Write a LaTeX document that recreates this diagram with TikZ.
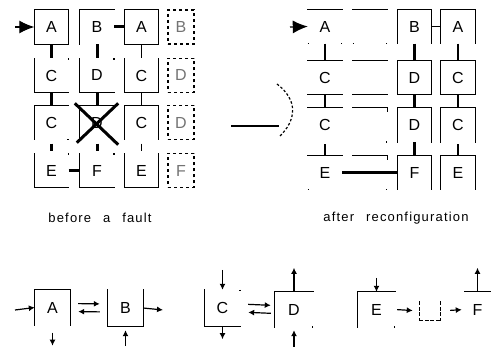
\documentclass[tikz,border=0pt]{standalone}
\usepackage{fontspec}
\setmainfont{Liberation Sans}
\newfontfamily\capfont[LetterSpace=9,WordSpace=2.5]{Liberation Sans}
\usetikzlibrary{arrows.meta,positioning}

% sides of a cell: t, l, r, b (B runs the other way)
\def\sidefromt{north west}\def\sidetot{north east}
\def\sidefroml{north west}\def\sidetol{south west}
\def\sidefromr{north east}\def\sidetor{south east}
\def\sidefromb{south west}\def\sidetob{south east}
\def\sidefromB{south east}\def\sidetoB{south west}
\newcommand{\cellsides}[3][cellline]{%
  \foreach \s in {#3}{%
    \edef\sidefrom{\csname sidefrom\s\endcsname}%
    \edef\sideto{\csname sideto\s\endcsname}%
    \draw[#1] (#2.\sidefrom) -- (#2.\sideto);}}

\begin{document}
\begin{tikzpicture}[x=1pt, y=-1pt, every node/.style={font=\fontsize{16}{16}\selectfont}]
\tikzstyle{cell}=[minimum width=34pt, minimum height=34pt, inner sep=0pt]
\tikzstyle{cellline}=[line width=1.2pt, line cap=rect]
\tikzstyle{ghost}=[line width=1.5pt, dash pattern=on 1.5pt off 200pt]
\tikzstyle{spare}=[cell, minimum width=26pt, draw, line width=1.2pt, dash pattern=on 3pt off 3pt, text=black!55]
\tikzstyle{thinlink}=[line width=1.2pt]
\tikzstyle{thicklink}=[line width=3pt]
\tikzstyle{feed}=[line width=1.2pt, -{Latex[length=15pt,width=13pt]}]
\tikzstyle{legarrow}=[line width=1.2pt, -{Latex[length=6pt,width=6pt]}]
\useasboundingbox (0,0) rectangle (491,347);

% before a fault
\node[cell] (l11) at (51.5,27) {A};
\node[cell] (l12) at (97,27) {B};
\node[cell] (l13) at (141.5,27) {A};
\node[spare] (l14) at (181,27) {B};
\node[cell] (l21) at (51.5,75.5) {C};
\node[cell] (l22) at (97,75.5) {D};
\node[cell] (l23) at (141.5,75.5) {C};
\node[spare] (l24) at (181,75.5) {D};
\node[cell] (l31) at (51.5,122.5) {C};
\node[cell] (l32) at (97,122.5) {D};
\node[cell] (l33) at (141.5,122.5) {C};
\node[spare] (l34) at (181,122.5) {D};
\node[cell] (l41) at (51.5,170.5) {E};
\node[cell] (l42) at (97,170.5) {F};
\node[cell] (l43) at (141.5,170.5) {E};
\node[spare] (l44) at (181,170.5) {F};
\cellsides{l11}{t,l,r,b}
\cellsides{l12}{t,l}
\cellsides{l13}{t,l,r,b}
\cellsides{l21}{l,b}
\cellsides{l22}{l,b}
\cellsides{l23}{l,r,b}
\cellsides{l31}{t,l}
\cellsides{l32}{t,l}
\cellsides{l33}{t,l,r}
\cellsides{l41}{l,b}
\cellsides{l42}{l,b}
\cellsides{l43}{l,r,b}
\cellsides[ghost]{l21}{r}
\cellsides[ghost]{l22}{r}
\cellsides[ghost]{l31}{B}
\cellsides[ghost]{l41}{r}
\cellsides[ghost]{l42}{r}
\coordinate (inL) at (15,27);
\draw[feed] (inL) -- (l11.west);
\draw[thicklink] (l11) -- (l21);
\draw[thicklink] (l12) -- (l22);
\draw[thicklink] (l12) -- (l13);
\draw[thinlink] (l13) -- (l23);
\draw[thicklink] (l21) -- (l31);
\draw[thicklink] (l22) -- (l32);
\draw[thinlink] (l23) -- (l33);
\draw[thicklink, shorten <=4pt, shorten >=2pt] (l31) -- (l41);
\draw[thicklink, shorten <=4pt, shorten >=2pt] (l32) -- (l42);
\draw[thinlink, shorten <=4pt, shorten >=2pt] (l33) -- (l43);
\draw[thicklink] (l41) -- (l42);
% the fault
\draw[thicklink] ([shift={(-5pt,2pt)}]l32.north west) -- ([shift={(4pt,-5pt)}]l32.south east);
\draw[thicklink] ([shift={(4pt,2pt)}]l32.north east) -- ([shift={(-3pt,-3pt)}]l32.south west);

% reconfiguration
\coordinate (sh0) at (232,126);
\coordinate (sh1) at (278,126);
\draw[cellline] (sh0) -- (sh1);
\draw[line width=1.2pt, dash pattern=on 2.5pt off 2pt] (277,84) .. controls (298,100) and (297,120) .. (279,137);

% after reconfiguration
\node[cell] (r11) at (325,26.5) {A};
\node[cell] (r12) at (370,26.5) {};
\node[cell] (r13) at (414.5,26.5) {B};
\node[cell] (r14) at (458,26.5) {A};
\node[cell] (r21) at (325,77.5) {C};
\node[cell] (r22) at (370,77.5) {};
\node[cell] (r23) at (414.5,77.5) {D};
\node[cell] (r24) at (458,77.5) {C};
\node[cell] (r31) at (325,125) {C};
\node[cell] (r32) at (370,125) {};
\node[cell] (r33) at (414.5,125) {D};
\node[cell] (r34) at (458,125) {C};
\node[cell] (r41) at (325,172.5) {E};
\node[cell] (r42) at (370,172.5) {};
\node[cell] (r43) at (414.5,172.5) {F};
\node[cell] (r44) at (458,172.5) {E};
\cellsides{r11}{t}
\cellsides{r12}{t}
\cellsides{r13}{t,l,r}
\cellsides{r14}{t,l,r}
\cellsides{r21}{t,b}
\cellsides{r22}{t,b}
\cellsides{r23}{t,l,r,b}
\cellsides{r24}{t,l,r,b}
\cellsides{r31}{t}
\cellsides{r32}{t}
\cellsides{r33}{t,l,r}
\cellsides{r34}{t,l,r}
\cellsides{r41}{t}
\cellsides{r42}{t}
\cellsides{r43}{t,l,r}
\cellsides{r44}{t,l,r}
\cellsides[ghost]{r11}{b,B}
\cellsides[ghost]{r12}{b,B}
\cellsides[ghost]{r32}{B}
\cellsides[ghost]{r41}{b}
\cellsides[ghost]{r42}{B}
\draw[cellline] (r32.north east) -- ([yshift=-4pt]r32.north east);
\draw[cellline] (r42.north east) -- ([yshift=-4pt]r42.north east);
\coordinate (inR) at (290,27);
\draw[feed] (inR) -- (r11.west);
\draw[thinlink] (r11) -- (r21);
\draw[thinlink] (r21) -- (r31);
\draw[thinlink, shorten <=2pt] (r31) -- (r41);
\draw[thinlink] (r13) -- (r14);
\draw[thicklink] (r13) -- (r23);
\draw[thicklink] (r23) -- (r33);
\draw[thicklink] (r33) -- (r43);
\draw[thinlink] (r14) -- (r24);
\draw[thinlink] (r24) -- (r34);
\draw[thinlink, shorten <=2pt] (r34) -- (r44);
\draw[thicklink] (r41.east) -- (r43.west);

% captions
\node[font=\capfont\fontsize{13}{13}\selectfont] (cap1) at (100,218) {before a fault};
\node[font=\capfont\fontsize{13}{13}\selectfont] (cap2) at (396,218) {after reconfiguration};

% legend
\node[cell, minimum width=35pt, minimum height=36pt] (g1) at (52.5,307.5) {A};
\node[cell, minimum width=35pt, minimum height=36pt] (g2) at (125.5,308) {B};
\node[cell, minimum width=35pt, minimum height=36pt] (g3) at (222.5,308) {C};
\node[cell, minimum width=38pt, minimum height=35pt] (g4) at (294,309.5) {D};
\node[cell, minimum width=37pt, minimum height=35pt] (g5) at (376.5,309.5) {E};
\node[cell, minimum width=20pt, minimum height=18pt] (g6) at (430,311) {};
\node[cell, minimum width=25pt, minimum height=35pt] (g7) at (477.5,309.5) {F};
\cellsides{g1}{t,l,r}
\cellsides{g2}{l,b,r}
\cellsides{g3}{l,b}
\cellsides{g4}{t,l}
\cellsides{g5}{t,l}
\cellsides[cellline, dash pattern=on 3pt off 2.5pt]{g6}{l,b,r}
\cellsides{g7}{t}
\cellsides[ghost]{g3}{r}
\cellsides[ghost]{g4}{B}
\cellsides[ghost]{g5}{B}
\coordinate (inA) at (15,310);
\coordinate (outB) at (163,310);
\draw[legarrow] (inA) -- (g1.west);
\draw[legarrow] ([yshift=-7pt]g1.south) -- ([yshift=-20pt]g1.south);
\draw[legarrow, shorten <=8pt, shorten >=8pt] ([yshift=4pt]g1.east) -- ([yshift=4pt]g2.west);
\draw[legarrow, shorten <=8pt, shorten >=8pt] ([yshift=-4pt]g2.west) -- ([yshift=-4pt]g1.east);
\draw[legarrow] (g2.east) -- (outB);
\draw[legarrow] ([yshift=-20pt]g2.south) -- ([yshift=-4pt]g2.south);
\draw[legarrow] ([yshift=20pt]g3.north) -- (g3.north);
\draw[legarrow] (g3.south) -- ([yshift=-13pt]g3.south);
\draw[legarrow, shorten <=8pt, shorten >=4pt] ([yshift=4pt]g3.east) -- ([yshift=4pt]g4.west);
\draw[legarrow, shorten <=4pt, shorten >=8pt] ([yshift=-4pt]g4.west) -- ([yshift=-4pt]g3.east);
\draw[legarrow] (g4.north) -- ([yshift=24pt]g4.north);
\draw[legarrow] ([yshift=-20pt]g4.south) -- ([yshift=-3pt]g4.south);
\draw[legarrow] ([yshift=14pt]g5.north) -- (g5.north);
\draw[legarrow, shorten <=2pt, shorten >=7pt] (g5.east) -- (g6.west);
\draw[legarrow, shorten <=10pt, shorten >=3pt] (g6.east) -- (g7.west);
\draw[legarrow] (g7.north) -- ([yshift=24pt]g7.north);
\end{tikzpicture}
\end{document}
